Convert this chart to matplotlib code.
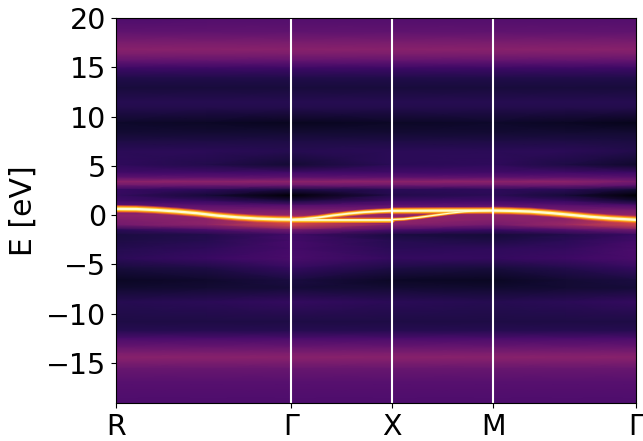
import matplotlib
matplotlib.use("Agg")
import matplotlib.pyplot as plt
import numpy as np

tick_pos = [0, 1.732, 2.732, 3.732, 5.146]
tick_labels = ["R", "Γ", "X", "M", "Γ"]
y_ticks = [-15, -10, -5, 0, 5, 10, 15, 20]

energy = [20,18.6,17.6,16.8,16.2,15.6,14.9,13.9,12.9,11.5,10.9,9.35,8.3,7.5,6.5,5.1,4.3,3.8,3.4,3.0,2.6,2.0,1.4,1.0,0.5,0,-0.5,-1,-1.5,-2,-2.6,-3.4,-4.4,-5.4,-6.6,-7.4,-8.8,-10.8,-11.7,-12.5,-13.4,-14.0,-14.4,-14.9,-15.6,-16.9,-19]
k_nodes = [0, 0.9, 1.732, 2.732, 3.732, 4.45, 5.146]

col_R  = [.23,.27,.33,.37,.33,.27,.19,.125,.105,.14,.13,.075,.09,.12,.15,.16,.20,.27,.38,.30,.18,.17,.20,.26,.34,.38,.34,.32,.15,.11,.12,.135,.15,.105,.065,.085,.14,.12,.14,.22,.29,.34,.37,.34,.29,.25,.23]
col_A  = [.24,.27,.33,.37,.33,.27,.19,.125,.105,.14,.13,.07,.09,.12,.15,.13,.20,.27,.38,.30,.16,.10,.18,.25,.33,.38,.38,.38,.22,.13,.14,.16,.18,.12,.08,.09,.15,.12,.14,.22,.29,.34,.37,.34,.29,.25,.23]
col_G  = [.24,.27,.33,.37,.33,.27,.19,.125,.105,.14,.13,.055,.09,.12,.14,.09,.20,.27,.38,.30,.12,.00,.12,.24,.33,.40,.55,.57,.32,.20,.21,.21,.22,.17,.11,.10,.17,.12,.14,.22,.29,.34,.37,.34,.29,.25,.23]
col_X  = [.24,.27,.33,.37,.33,.27,.19,.125,.105,.14,.13,.07,.09,.12,.15,.15,.20,.27,.38,.30,.15,.13,.20,.26,.34,.38,.40,.36,.22,.11,.14,.15,.17,.12,.07,.09,.15,.12,.14,.22,.29,.34,.37,.34,.29,.25,.23]
col_M  = [.24,.27,.33,.37,.33,.27,.19,.125,.105,.14,.13,.075,.09,.12,.15,.16,.20,.27,.38,.30,.16,.15,.20,.26,.34,.38,.36,.32,.18,.10,.12,.16,.17,.105,.06,.085,.14,.12,.14,.22,.29,.34,.37,.34,.29,.25,.23]
col_B  = [.24,.27,.33,.37,.33,.27,.19,.125,.105,.14,.13,.065,.09,.12,.15,.12,.20,.27,.38,.30,.15,.10,.18,.25,.33,.38,.38,.42,.24,.13,.15,.17,.19,.13,.09,.09,.15,.12,.14,.22,.29,.34,.37,.34,.29,.25,.23]
col_G2 = [.24,.27,.33,.37,.33,.27,.19,.125,.105,.14,.13,.05,.09,.11,.13,.08,.19,.26,.33,.26,.10,.00,.10,.22,.33,.40,.55,.56,.32,.18,.20,.22,.22,.17,.11,.10,.17,.12,.14,.22,.29,.34,.37,.34,.29,.25,.23]

branch_r_k = [0, .2, .4, .6, .8, 1, 1.2, 1.4, 1.6, 1.732]
branch_r_e = [.64, .62, .52, .38, .2, -.04, -.22, -.35, -.42, -.44]
branch_up_k = [1.732, 1.85, 2, 2.15, 2.3, 2.45, 2.6, 2.732]
branch_up_e = [-.44, -.39, -.24, -.02, .16, .3, .39, .44]
branch_fl_k = [1.732, 2.2, 2.732]
branch_fl_e = [-.44, -.44, -.44]
branch_xm_k = [2.732, 3.2, 3.732]
branch_xm_e = [.44, .46, .47]
branch_rise_k = [2.732, 2.85, 3, 3.15, 3.3, 3.45, 3.6, 3.732]
branch_rise_e = [-.44, -.39, -.22, -.01, .2, .36, .44, .47]
branch_g_k = [3.732, 3.9, 4.1, 4.3, 4.5, 4.7, 4.9, 5.146]
branch_g_e = [.47, .44, .37, .22, .03, -.17, -.33, -.47]

grid = np.array([col_R, col_A, col_G, col_X, col_M, col_B, col_G2]).T

fig = plt.figure(figsize=(6.43, 4.41), dpi=100)
ax = fig.add_axes([116/643, 1 - 403/441, 520/643, 385/441])
ax.pcolormesh(k_nodes, energy, grid, cmap="inferno", vmin=0, vmax=1, shading="gouraud", rasterized=True)

layers = [(1.0, "#dd513a", 0.6), (0.78, "#f37819", 1), (0.55, "#fcc02a", 1), (0.3, "#fefbd0", 1)]
branches = [
    (branch_rise_k, branch_rise_e, 2.8),
    (branch_fl_k, branch_fl_e, 4.2),
    (branch_up_k, branch_up_e, 4.2),
    (branch_xm_k, branch_xm_e, 5.2),
    (branch_r_k, branch_r_e, 5.6),
    (branch_g_k, branch_g_e, 5.6),
]
for scale, c, a in layers:
    for bk, be, w in branches:
        ax.plot(bk, be, color=c, alpha=a, lw=w * scale, solid_capstyle="round", solid_joinstyle="round")

for k in tick_pos[1:-1]:
    ax.axvline(k, color="white", lw=1.5)

ax.set_xlim(0, 5.146)
ax.set_ylim(-19.05, 20)
ax.set_xticks(tick_pos)
ax.set_xticklabels(tick_labels)
ax.set_yticks(y_ticks)
ax.tick_params(labelsize=20.5)
ax.set_ylabel("E [eV]", fontsize=21.5, labelpad=6)
fig.savefig("out.png", dpi=100)
